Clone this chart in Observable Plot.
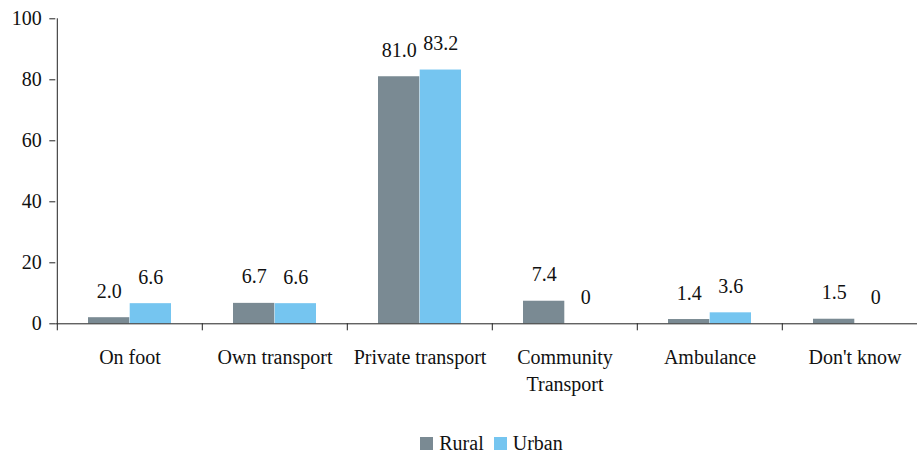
<!DOCTYPE html>
<html>
<head>
<meta charset="utf-8">
<script src="https://cdn.jsdelivr.net/npm/d3@7"></script>
<script src="https://cdn.jsdelivr.net/npm/@observablehq/plot@0.6"></script>
<style>
  html, body { margin: 0; padding: 0; background: #fff; overflow: hidden; }
  #chart { width: 917px; }
  #chart svg, #chart svg text { font-family: "Liberation Serif", "Times New Roman", Times, "DejaVu Serif", serif !important; }
  #legend { display: flex; justify-content: center; align-items: center; font-family: "Liberation Serif", "Times New Roman", Times, "DejaVu Serif", serif; font-size: 20px; color: #111; height: 30px; padding-left: 66px; }
  #legend .item { display: flex; align-items: center; margin: 0 5px; }
  #legend .sw { width: 13px; height: 13px; margin-right: 6px; display: inline-block; }
</style>
</head>
<body>
<div id="chart"></div>
<script>
const categories = ["On foot", "Own transport", "Private transport", "Community\nTransport", "Ambulance", "Don't know"];
const series = ["Rural", "Urban"];
const rural = [2.0, 6.7, 81.0, 7.4, 1.4, 1.5];
const urban = [6.6, 6.6, 83.2, 0, 3.6, 0];
const colors = ["#7a8a93", "#75c5f0"];
const yTicks = [0, 20, 40, 60, 80, 100];

const W = 917, H = 428;
const mL = 55.3, mR = -10.7, mT = 18.3, mB = H - 323.3;
const band = (W - mL - mR) / categories.length;
const barW = 41.7;
const outer = (band - 2 * barW) / 2;

const rows = [];
categories.forEach((c, i) => {
  rows.push({category: c, series: "Rural", value: rural[i]});
  rows.push({category: c, series: "Urban", value: urban[i]});
});
const fmt = v => v === 0 ? "0" : v.toFixed(1);

const plot = Plot.plot({
  width: W, height: H,
  marginLeft: mL, marginRight: mR, marginTop: mT, marginBottom: mB,
  style: {fontSize: "20px", color: "#111", background: "#fff", overflow: "visible"},
  x: {domain: categories, padding: 0, axis: null},
  y: {domain: [0, 100], axis: null},
  color: {domain: series, range: colors},
  marks: [
    Plot.barY(rows.filter(d => d.series === "Rural"), {x: "category", y: "value", fill: "series", insetLeft: outer, insetRight: band - outer - barW}),
    Plot.barY(rows.filter(d => d.series === "Urban"), {x: "category", y: "value", fill: "series", insetLeft: outer + barW, insetRight: outer}),
    Plot.text(rows.filter(d => d.series === "Rural"), {x: "category", y: "value", text: d => fmt(d.value), dx: -(band / 2 - outer - barW / 2), dy: -20, lineAnchor: "bottom", fill: "#111"}),
    Plot.text(rows.filter(d => d.series === "Urban"), {x: "category", y: "value", text: d => fmt(d.value), dx: (band / 2 - outer - barW / 2), dy: -20, lineAnchor: "bottom", fill: "#111"}),
    Plot.ruleY([0], {stroke: "#222", strokeWidth: 1}),
    Plot.ruleX([categories[0]], {x: d => d, y1: 0, y2: 100, dx: -band / 2, stroke: "#222"}),
    Plot.ruleX(categories, {x: d => d, y1: 0, y2: -2.3, dx: -band / 2, stroke: "#222", clip: false}),
    Plot.axisY({ticks: yTicks, tickSize: 6, tickPadding: 8, stroke: "#222", fill: "#111", label: null}),
    Plot.axisX({tickSize: 0, tickPadding: 21, lineHeight: 1.35, fill: "#111", label: null})
  ]
});
document.getElementById("chart").appendChild(plot);

const legend = document.createElement("div");
legend.id = "legend";
series.forEach((s, i) => {
  const it = document.createElement("span");
  it.className = "item";
  const sw = document.createElement("span");
  sw.className = "sw";
  sw.style.background = colors[i];
  it.appendChild(sw);
  it.appendChild(document.createTextNode(s));
  legend.appendChild(it);
});
document.body.appendChild(legend);
</script>
</body>
</html>
